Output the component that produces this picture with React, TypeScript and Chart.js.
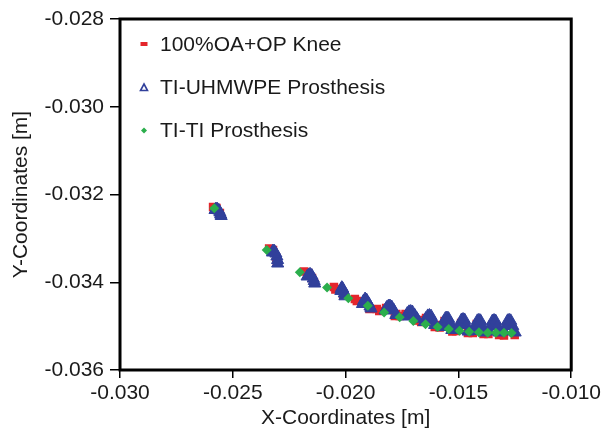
import React, { useEffect, useRef } from 'react';
import { Chart, registerables } from 'chart.js';

Chart.register(...registerables);

const xTicks = [-0.030, -0.025, -0.020, -0.015, -0.010];
const yTicks = [-0.036, -0.034, -0.032, -0.030, -0.028];
const seriesNames = ['100%OA+OP Knee', 'TI-UHMWPE Prosthesis', 'TI-TI Prosthesis'];
const xTitle = 'X-Coordinates [m]';
const yTitle = 'Y-Coordinates [m]';

// 100%OA+OP Knee
const redX = [
  -0.025875, -0.025724, -0.025572,
  -0.023391, -0.023218, -0.023067, -0.023045,
  -0.021836, -0.021663, -0.021490, -0.021404,
  -0.020518, -0.020454, -0.020238, -0.020108,
  -0.019590, -0.019503, -0.019244, -0.018942,
  -0.018618, -0.018510, -0.018207, -0.017819,
  -0.017754, -0.017603, -0.017343, -0.016868,
  -0.016760, -0.016652, -0.016436, -0.016048,
  -0.015983, -0.015832, -0.015616, -0.015270,
  -0.015248, -0.015097, -0.014881, -0.014579,
  -0.014536, -0.014363, -0.014190, -0.013888,
  -0.013845, -0.013672, -0.013499, -0.013197,
  -0.013153, -0.012981, -0.012808, -0.012505,
];
const redY = [
  -0.032285, -0.032308, -0.032422,
  -0.033231, -0.033265, -0.033447, -0.033539,
  -0.033755, -0.033789, -0.033903, -0.034006,
  -0.034108, -0.034165, -0.034154, -0.034291,
  -0.034382, -0.034427, -0.034450, -0.034610,
  -0.034610, -0.034655, -0.034587, -0.034769,
  -0.034724, -0.034769, -0.034724, -0.034872,
  -0.034860, -0.034906, -0.034815, -0.035020,
  -0.034974, -0.035031, -0.034883, -0.035123,
  -0.035043, -0.035111, -0.034929, -0.035157,
  -0.035088, -0.035157, -0.034952, -0.035180,
  -0.035111, -0.035180, -0.034974, -0.035203,
  -0.035134, -0.035214, -0.034974, -0.035203,
];

// TI-UHMWPE Prosthesis
const blueX = [
  -0.025788, -0.025745, -0.025680, -0.025616, -0.025572, -0.025538, -0.025516,
  -0.023240, -0.023218, -0.023153, -0.023089, -0.023045, -0.023015, -0.023011,
  -0.021706, -0.021642, -0.021577, -0.021499, -0.021434, -0.021391, -0.021369,
  -0.020212, -0.020194, -0.020169, -0.020134, -0.020095, -0.020061, -0.020030,
  -0.019253, -0.019205, -0.019136, -0.019071, -0.018994, -0.018920, -0.018877,
  -0.018251, -0.018181, -0.018104, -0.018035, -0.017957, -0.017870, -0.017775,
  -0.017335, -0.017266, -0.017188, -0.017114, -0.017041, -0.016946, -0.016834,
  -0.016514, -0.016445, -0.016359, -0.016285, -0.016212, -0.016134, -0.016056,
  -0.015732, -0.015659, -0.015577, -0.015508, -0.015439, -0.015356, -0.015292,
  -0.015019, -0.014946, -0.014864, -0.014795, -0.014726, -0.014644, -0.014570,
  -0.014315, -0.014242, -0.014160, -0.014091, -0.014022, -0.013940, -0.013866,
  -0.013646, -0.013572, -0.013490, -0.013421, -0.013352, -0.013270, -0.013197,
  -0.012981, -0.012903, -0.012821, -0.012752, -0.012682, -0.012592, -0.012484,
];
const blueY = [
  -0.032353, -0.032331, -0.032337, -0.032365, -0.032410, -0.032456, -0.032490,
  -0.033322, -0.033288, -0.033295, -0.033345, -0.033413, -0.033493, -0.033573,
  -0.033869, -0.033835, -0.033819, -0.033846, -0.033915, -0.033972, -0.034029,
  -0.034199, -0.034154, -0.034124, -0.034142, -0.034195, -0.034256, -0.034320,
  -0.034496, -0.034427, -0.034382, -0.034405, -0.034473, -0.034553, -0.034598,
  -0.034644, -0.034576, -0.034546, -0.034541, -0.034564, -0.034633, -0.034746,
  -0.034781, -0.034712, -0.034674, -0.034667, -0.034678, -0.034746, -0.034831,
  -0.034906, -0.034826, -0.034767, -0.034758, -0.034774, -0.034860, -0.034974,
  -0.035020, -0.034906, -0.034826, -0.034815, -0.034829, -0.034929, -0.035088,
  -0.035088, -0.034963, -0.034860, -0.034849, -0.034860, -0.034974, -0.035123,
  -0.035111, -0.034986, -0.034879, -0.034867, -0.034879, -0.034997, -0.035145,
  -0.035123, -0.034997, -0.034883, -0.034872, -0.034883, -0.034997, -0.035145,
  -0.035123, -0.034997, -0.034879, -0.034867, -0.034879, -0.034997, -0.035145,
];

// TI-TI Prosthesis
const greenX = [
  -0.025823, -0.023499, -0.022030, -0.020821, -0.019879, -0.019015, -0.018294,
  -0.017603, -0.016998, -0.016458, -0.015918, -0.015430, -0.014955, -0.014523,
  -0.014091, -0.013702, -0.013339, -0.012981, -0.012648,
];
const greenY = [
  -0.032315, -0.033265, -0.033773, -0.034120, -0.034366, -0.034535, -0.034687,
  -0.034797, -0.034883, -0.034958, -0.035020, -0.035066, -0.035104, -0.035127,
  -0.035141, -0.035150, -0.035150, -0.035150, -0.035157,
];

const RED = '#E4262C';
const BLUE = '#31409B';
const GREEN = '#2BAE4C';
const FONT = '"Liberation Sans", Arial, Helvetica, sans-serif';
const FS = 21;

const pts = (xs: number[], ys: number[]) => xs.map((x, i) => ({ x, y: ys[i] }));

const framePlugin = {
  id: 'frame',
  afterDraw(chart: any) {
    const { ctx, chartArea } = chart;
    ctx.save();
    ctx.strokeStyle = '#000';
    ctx.lineWidth = 3;
    ctx.strokeRect(chartArea.left, chartArea.top, chartArea.right - chartArea.left, chartArea.bottom - chartArea.top);
    ctx.restore();
  },
};

const legendPlugin = {
  id: 'insideLegend',
  afterDraw(chart: any) {
    const { ctx, chartArea } = chart;
    const mx = chartArea.left + 24;
    const tx = chartArea.left + 40;
    const rows = [chartArea.top + 25, chartArea.top + 68.5, chartArea.top + 111.5];
    ctx.save();
    ctx.fillStyle = RED;
    ctx.fillRect(mx - 3.5, rows[0] - 2, 7, 4);
    ctx.strokeStyle = BLUE;
    ctx.lineWidth = 1.6;
    ctx.beginPath();
    ctx.moveTo(mx, rows[1] - 3.5);
    ctx.lineTo(mx + 3.5, rows[1] + 3);
    ctx.lineTo(mx - 3.5, rows[1] + 3);
    ctx.closePath();
    ctx.stroke();
    ctx.fillStyle = GREEN;
    ctx.beginPath();
    ctx.moveTo(mx, rows[2] - 3);
    ctx.lineTo(mx + 3, rows[2]);
    ctx.lineTo(mx, rows[2] + 3);
    ctx.lineTo(mx - 3, rows[2]);
    ctx.closePath();
    ctx.fill();
    ctx.font = FS + 'px ' + FONT;
    ctx.fillStyle = '#1a1a1a';
    ctx.textBaseline = 'middle';
    ctx.textAlign = 'left';
    seriesNames.forEach((n, i) => ctx.fillText(n, tx, rows[i] + 1));
    ctx.restore();
  },
};

export default function App() {
  const ref = useRef<HTMLCanvasElement | null>(null);
  useEffect(() => {
    if (!ref.current) return;
    const chart = new Chart(ref.current, {
      type: 'scatter',
      data: {
        datasets: [
          {
            label: seriesNames[0],
            data: pts(redX, redY),
            pointStyle: 'rect',
            pointRadius: 6,
            backgroundColor: RED,
            borderColor: RED,
            borderWidth: 0,
            order: 3,
          },
          {
            label: seriesNames[1],
            data: pts(blueX, blueY),
            pointStyle: 'triangle',
            pointRadius: 7,
            backgroundColor: BLUE,
            borderColor: BLUE,
            borderWidth: 1,
            order: 2,
          },
          {
            label: seriesNames[2],
            data: pts(greenX, greenY),
            pointStyle: 'rectRot',
            pointRadius: 5,
            backgroundColor: GREEN,
            borderColor: GREEN,
            borderWidth: 0,
            order: 1,
          },
        ],
      },
      options: {
        responsive: false,
        animation: false,
        devicePixelRatio: 1,
        layout: { padding: { top: 19, right: 21, bottom: 0, left: 0 } },
        plugins: { legend: { display: false }, tooltip: { enabled: false } },
        scales: {
          x: {
            type: 'linear',
            min: -0.03,
            max: -0.01,
            afterBuildTicks: (s: any) => {
              s.ticks = xTicks.map((v) => ({ value: v }));
            },
            afterFit: (s: any) => {
              s.height = 65;
            },
            ticks: {
              callback: (v: any) => Number(v).toFixed(3),
              color: '#1a1a1a',
              font: { family: FONT, size: FS },
              padding: 3,
              maxRotation: 0,
            },
            grid: { drawOnChartArea: false, drawTicks: true, tickLength: 8, color: '#000', lineWidth: 1.5 },
            border: { display: false },
            title: { display: true, text: xTitle, color: '#1a1a1a', font: { family: FONT, size: FS }, padding: { top: 0, bottom: 4 } },
          },
          y: {
            type: 'linear',
            min: -0.036,
            max: -0.028,
            afterBuildTicks: (s: any) => {
              s.ticks = yTicks.map((v) => ({ value: v }));
            },
            afterFit: (s: any) => {
              s.width = 120;
            },
            ticks: {
              callback: (v: any) => Number(v).toFixed(3),
              color: '#1a1a1a',
              font: { family: FONT, size: FS },
              padding: 6,
            },
            grid: { drawOnChartArea: false, drawTicks: true, tickLength: 10, color: '#000', lineWidth: 1.5 },
            border: { display: false },
            title: { display: true, text: yTitle, color: '#1a1a1a', font: { family: FONT, size: FS }, padding: { top: 9, bottom: 0 } },
          },
        },
      },
      plugins: [framePlugin, legendPlugin],
    });
    return () => chart.destroy();
  }, []);
  return (
    <div style={{ position: 'absolute', left: 0, top: 0, width: 604, height: 435, background: '#fff' }}>
      <canvas ref={ref} width={604} height={435} />
    </div>
  );
}
